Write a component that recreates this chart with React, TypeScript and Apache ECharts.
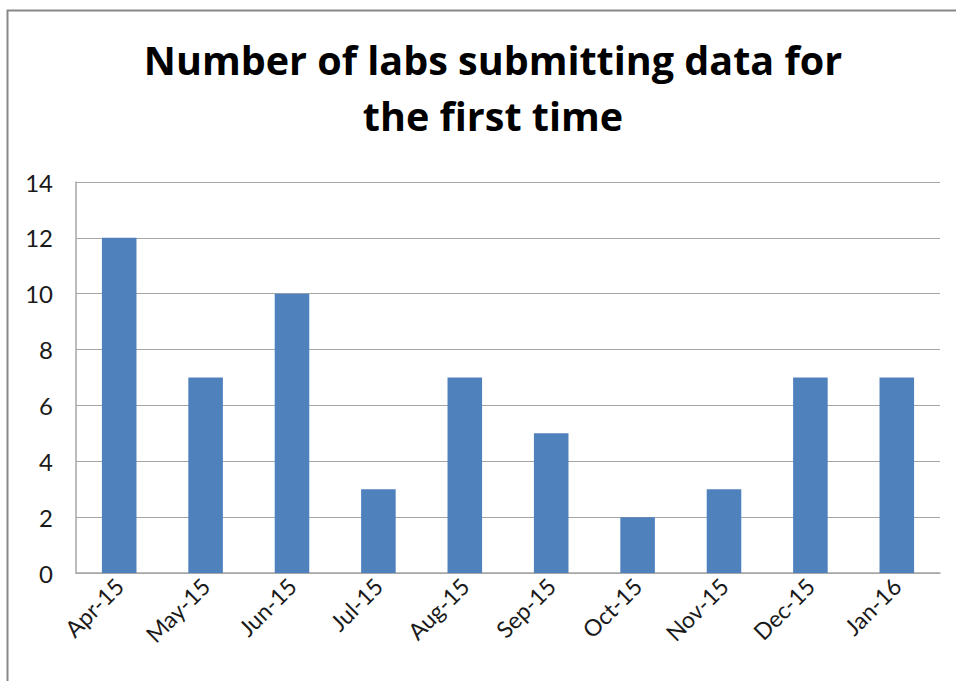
import React, { useEffect, useRef } from "react";
import * as echarts from "echarts";

const categories = ["Apr-15", "May-15", "Jun-15", "Jul-15", "Aug-15", "Sep-15", "Oct-15", "Nov-15", "Dec-15", "Jan-16"];
const labCounts = [12, 7, 10, 3, 7, 5, 2, 3, 7, 7];
const titleText = "Number of labs submitting data for\nthe first time";

export default function App() {
  const ref = useRef<HTMLDivElement>(null);
  useEffect(() => {
    document.body.style.margin = "0";
    const chart = echarts.init(ref.current!, null, { renderer: "svg" });
    chart.setOption({
      animation: false,
      backgroundColor: "#ffffff",
      textStyle: { fontFamily: "Lato" },
      title: {
        text: titleText,
        left: 488,
        textAlign: "center",
        top: 27,
        textStyle: { fontFamily: "Open Sans", fontWeight: "bold", fontSize: 39.5, lineHeight: 56, color: "#000000" },
      },
      graphic: [
        {
          type: "rect",
          shape: { x: 7.5, y: 10.5, width: 1000, height: 1000 },
          style: { fill: "none", stroke: "#888888", lineWidth: 2 },
          silent: true,
        },
      ],
      grid: { left: 76, right: 16, top: 182, bottom: 108, containLabel: false },
      xAxis: {
        type: "category",
        data: categories,
        axisLine: { show: true, lineStyle: { color: "#a6a6a6", width: 1.5 } },
        axisTick: { show: false },
        axisLabel: { rotate: 45, fontSize: 23, color: "#1a1a1a", margin: 9, fontFamily: "Lato", interval: 0 },
        splitLine: { show: false },
      },
      yAxis: {
        type: "value",
        min: 0,
        max: 14,
        interval: 2,
        axisLine: { show: true, lineStyle: { color: "#a6a6a6", width: 1.5 } },
        axisTick: { show: false },
        axisLabel: { fontSize: 24, color: "#1a1a1a", margin: 23, fontFamily: "Lato" },
        splitLine: { show: true, lineStyle: { color: "#a6a6a6", width: 1 } },
      },
      series: [
        {
          type: "bar",
          data: labCounts,
          barWidth: "40%",
          itemStyle: { color: "#4f81bd" },
        },
      ],
    });
    return () => chart.dispose();
  }, []);
  return <div ref={ref} style={{ width: 956, height: 681 }} />;
}
